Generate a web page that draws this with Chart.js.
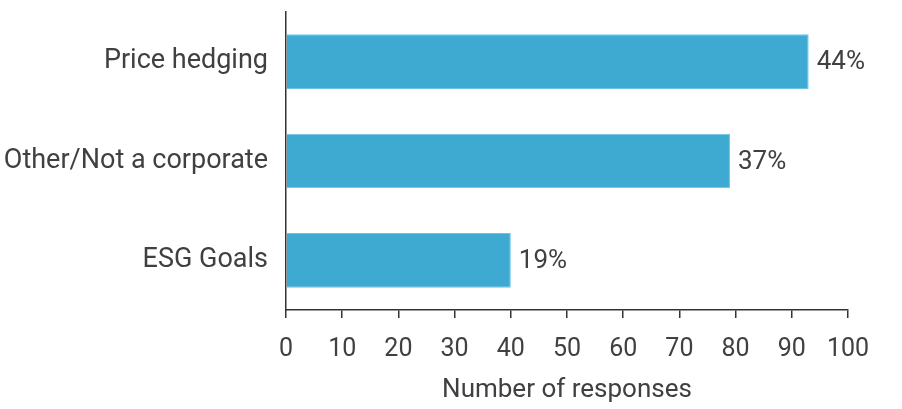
<!DOCTYPE html>
<html lang="en">
  <head>
    <meta charset="UTF-8" />
    <title>Number of responses</title>
    <style>
      html, body { margin: 0; padding: 0; background: #fff; }
      #wrap { width: 902px; height: 409px; }
    </style>
  </head>
  <body>
    <div id="wrap"><canvas id="myChart" width="902" height="409"></canvas></div>

    <script src="https://cdn.jsdelivr.net/npm/chart.js@4.4.0/dist/chart.umd.min.js"></script>
    <script>
      const categories = ["Price hedging", "Other/Not a corporate", "ESG Goals"];
      const responses = [93, 79, 40];
      const shareLabels = ["44%", "37%", "19%"];

      const textColor = "#404040";
      const fontFamily = "Roboto, 'Noto Sans', sans-serif";

      // percent labels at the end of each bar
      const endLabels = {
        id: "endLabels",
        afterDatasetsDraw(chart) {
          const ctx = chart.ctx;
          const meta = chart.getDatasetMeta(0);
          ctx.save();
          ctx.font = "26px " + fontFamily;
          ctx.fillStyle = textColor;
          ctx.textAlign = "left";
          ctx.textBaseline = "middle";
          meta.data.forEach((bar, i) => {
            ctx.fillText(shareLabels[i], bar.x + 8, bar.y + 1);
          });
          ctx.restore();
        },
      };

      const ctx = document.getElementById("myChart").getContext("2d");
      const myChart = new Chart(ctx, {
        type: "bar",
        data: {
          labels: categories,
          datasets: [
            {
              label: "Number of responses",
              data: responses,
              backgroundColor: "#3EAAD1",
              borderColor: "#6CC4E4",
              borderWidth: 1,
              barPercentage: 0.55,
              categoryPercentage: 1,
            },
          ],
        },
        options: {
          indexAxis: "y",
          responsive: false,
          animation: false,
          layout: { padding: { top: 12, right: 54, left: 0, bottom: 0 } },
          plugins: {
            legend: { display: false },
            tooltip: { enabled: false },
          },
          scales: {
            x: {
              min: 0,
              max: 100,
              ticks: {
                stepSize: 10,
                color: textColor,
                padding: 17,
                font: { family: fontFamily, size: 25 },
              },
              grid: {
                drawOnChartArea: false,
                drawTicks: true,
                tickLength: 8,
                color: "#333",
                lineWidth: 1.5,
              },
              border: { display: true, color: "#333", width: 1.5 },
              title: {
                display: true,
                text: "Number of responses",
                color: textColor,
                padding: { top: 10, bottom: 3 },
                font: { family: fontFamily, size: 26 },
              },
              afterFit(scale) {
                scale.height = 99;
                scale.paddingLeft = 0;
                scale.paddingRight = 0;
              },
            },
            y: {
              ticks: {
                color: textColor,
                padding: 10,
                font: { family: fontFamily, size: 27 },
              },
              grid: { display: false },
              border: { display: true, color: "#333", width: 1.5 },
              afterFit(scale) {
                scale.width = 286;
                scale.paddingTop = 0;
                scale.paddingBottom = 0;
              },
            },
          },
        },
        plugins: [endLabels],
      });
    </script>
  </body>
</html>
